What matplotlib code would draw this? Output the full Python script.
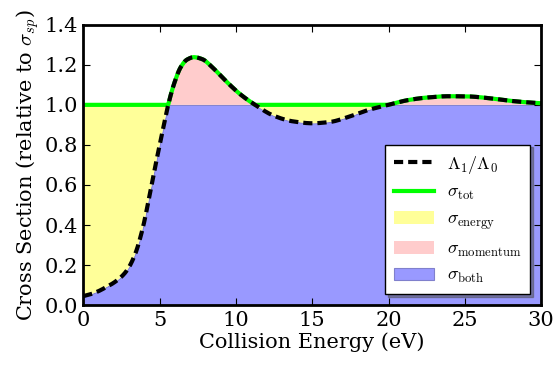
import numpy as np
import matplotlib
matplotlib.use("Agg")
import matplotlib.pyplot as plt

energy = [0, 0.5, 1, 1.5, 2, 2.5, 2.9, 3.4, 3.9, 4.3, 4.75, 5.2, 5.55, 5.95, 6.4, 6.8, 7.25, 7.8, 8.4, 9.0, 9.6, 10.3, 11.2, 12.5, 13.7, 15.0, 16.2, 17.3, 18.7, 20.0, 21.3, 22.6, 23.9, 25.2, 26.5, 28.0, 29.0, 30.0]
ratio = [0.045, 0.055, 0.07, 0.09, 0.112, 0.142, 0.178, 0.255, 0.385, 0.53, 0.705, 0.87, 0.995, 1.105, 1.19, 1.226, 1.238, 1.228, 1.192, 1.146, 1.10, 1.052, 1.003, 0.945, 0.918, 0.908, 0.915, 0.938, 0.975, 1.0, 1.024, 1.037, 1.043, 1.042, 1.034, 1.02, 1.013, 1.008]

plt.rcParams['font.family'] = ['DejaVu Serif']
plt.rcParams['mathtext.fontset'] = 'cm'


def pchip(x, y, xs):
    x = np.asarray(x, float); y = np.asarray(y, float)
    h = np.diff(x); d = np.diff(y) / h
    m = np.zeros_like(y)
    for i in range(1, len(x) - 1):
        if d[i - 1] * d[i] > 0:
            w1 = 2 * h[i] + h[i - 1]; w2 = h[i] + 2 * h[i - 1]
            m[i] = (w1 + w2) / (w1 / d[i - 1] + w2 / d[i])
    m[0] = d[0]; m[-1] = d[-1]
    idx = np.clip(np.searchsorted(x, xs) - 1, 0, len(x) - 2)
    t = (xs - x[idx]) / h[idx]
    h00 = 2*t**3 - 3*t**2 + 1; h10 = t**3 - 2*t**2 + t
    h01 = -2*t**3 + 3*t**2; h11 = t**3 - t**2
    return h00*y[idx] + h10*h[idx]*m[idx] + h01*y[idx+1] + h11*h[idx]*m[idx+1]


xs = np.linspace(0, 30, 1501)
ys = pchip(energy, ratio, xs)

fig = plt.figure(figsize=(5.55, 3.69), dpi=100)
ax = fig.add_axes([0.150, 0.173, 0.825, 0.760])

ax.fill_between(xs, 0, np.minimum(ys, 1), facecolor='#9999ff', edgecolor='#8080cc', lw=0.8,
                label=r'$\sigma_{\mathrm{both}}$', zorder=1)
ax.fill_between(xs, ys, 1, where=ys < 1, color='#ffff99', lw=0,
                label=r'$\sigma_{\mathrm{energy}}$', zorder=1, interpolate=True)
ax.fill_between(xs, 1, ys, where=ys > 1, color='#ffcccc', lw=0,
                label=r'$\sigma_{\mathrm{momentum}}$', zorder=1, interpolate=True)
ax.plot(xs, np.maximum(ys, 1), color='#00ff00', lw=3, label=r'$\sigma_{\mathrm{tot}}$', zorder=2)
ax.plot(xs, ys, color='black', lw=3, ls=(0, (2.2, 1.2)), label=r'$\Lambda_1/\Lambda_0$', zorder=3)

ax.set_xlim(0, 30)
ax.set_ylim(0, 1.4)
ax.set_xticks([0, 5, 10, 15, 20, 25, 30])
ax.set_yticks([0.0, 0.2, 0.4, 0.6, 0.8, 1.0, 1.2, 1.4])
ax.set_yticklabels(['0.0', '0.2', '0.4', '0.6', '0.8', '1.0', '1.2', '1.4'])
ax.tick_params(direction='in', top=True, right=True, labelsize=15, length=5, width=0.8, pad=4)
for s in ax.spines.values():
    s.set_linewidth(2)
ax.set_xlabel('Collision Energy (eV)', fontsize=15, labelpad=2)
ax.set_ylabel(r'Cross Section (relative to $\sigma_{sp}$)', fontsize=15, labelpad=2)

handles, labels = ax.get_legend_handles_labels()
want = [r'$\Lambda_1/\Lambda_0$', r'$\sigma_{\mathrm{tot}}$', r'$\sigma_{\mathrm{energy}}$',
        r'$\sigma_{\mathrm{momentum}}$', r'$\sigma_{\mathrm{both}}$']
order = [labels.index(l) for l in want]
leg = ax.legend([handles[i] for i in order], [labels[i] for i in order], loc='lower right',
                fontsize=13, shadow=True, fancybox=False, framealpha=1, edgecolor='black',
                handlelength=2.2, handletextpad=0.7, borderaxespad=0.6, labelspacing=0.42,
                borderpad=0.5)
leg.get_frame().set_linewidth(1)

fig.savefig('out.png', dpi=100)
